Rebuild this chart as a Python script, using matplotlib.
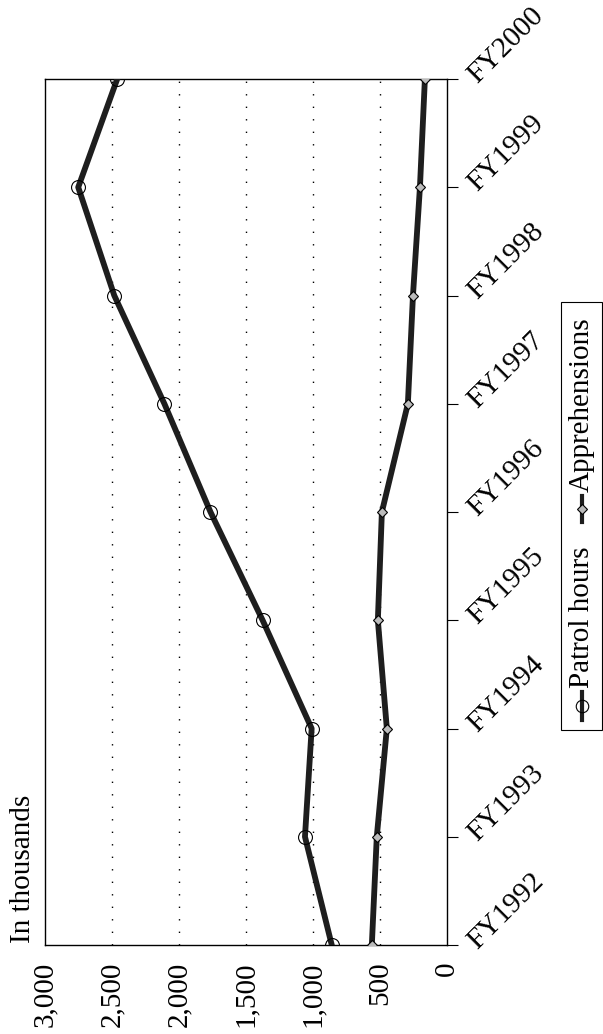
import matplotlib
matplotlib.use("Agg")
import matplotlib.pyplot as plt
from matplotlib.patches import Rectangle
from matplotlib.lines import Line2D
import numpy as np

# data (in thousands)
years = ["FY1992", "FY1993", "FY1994", "FY1995", "FY1996",
         "FY1997", "FY1998", "FY1999", "FY2000"]
patrol_hours = [860, 1060, 1010, 1376, 1765, 2109, 2483, 2752, 2461]
apprehensions = [561, 524, 449, 516, 486, 292, 254, 202, 165]
value_ticks = [0, 500, 1000, 1500, 2000, 2500, 3000]
value_labels = ["0", "500", "1,000", "1,500", "2,000", "2,500", "3,000"]

plt.rcParams["font.family"] = ["Liberation Serif", "DejaVu Serif"]
plt.rcParams["font.size"] = 21

W, H = 603, 1034
fig = plt.figure(figsize=(W / 100, H / 100), dpi=100)

# the chart is printed turned on its side: values run right to left,
# years run bottom to top
ax = fig.add_axes([45 / W, (H - 945) / H, (447 - 45) / W, (945 - 79) / H])
ypos = np.arange(len(years))

line_color = "#1e1e1e"
ax.plot(patrol_hours, ypos, color=line_color, lw=4.2, marker="o", ms=10,
        mfc="none", mec="black", mew=0.8, zorder=3)
ax.plot(apprehensions, ypos, color=line_color, lw=4.2, marker="D", ms=5,
        mfc="#bbbbbb", mec="black", mew=0.8, zorder=3)

ax.set_xlim(3000, 0)
ax.set_ylim(0, len(years) - 1)

# dotted gridlines
for v in value_ticks[1:-1]:
    ax.axvline(v, color="black", lw=1.0, ls=(0, (1, 8)), zorder=1)

# value axis (bottom of the page)
ax.set_xticks(value_ticks)
ax.set_xticklabels(value_labels, rotation=90)
ax.tick_params(axis="x", length=0, pad=12)

# year axis (right side of the page)
ax.yaxis.tick_right()
ax.set_yticks(ypos)
ax.set_yticklabels(years, rotation=45, rotation_mode="anchor",
                   ha="left", va="center")
ax.tick_params(axis="y", direction="out", length=8, width=0.8, pad=10)

for s in ax.spines.values():
    s.set_linewidth(1.0)

# unit note
fig.text(23 / W, (H - 943) / H, "In thousands", rotation=90,
         ha="center", va="bottom")

# legend, drawn by hand because it is rotated too
fig.patches.append(Rectangle((561 / W, (H - 730) / H), 41 / W, 428 / H,
                             transform=fig.transFigure, fill=False,
                             ec="black", lw=0.8))
lx = 582 / W
fig.lines.append(Line2D([lx, lx], [(H - 720) / H, (H - 692) / H],
                        transform=fig.transFigure, color=line_color, lw=3))
fig.lines.append(Line2D([lx], [(H - 706) / H], transform=fig.transFigure,
                        marker="o", ms=9, mfc="none", mec="black", mew=0.8,
                        color=line_color))
fig.text(lx, (H - 688) / H, "Patrol hours", rotation=90,
         ha="center", va="bottom")
fig.lines.append(Line2D([lx, lx], [(H - 522) / H, (H - 496) / H],
                        transform=fig.transFigure, color=line_color, lw=3))
fig.lines.append(Line2D([lx], [(H - 509) / H], transform=fig.transFigure,
                        marker="D", ms=5, mfc="#bbbbbb", mec="black",
                        mew=0.8, color=line_color))
fig.text(lx, (H - 492) / H, "Apprehensions", rotation=90,
         ha="center", va="bottom")

fig.savefig("out.png", dpi=100)
